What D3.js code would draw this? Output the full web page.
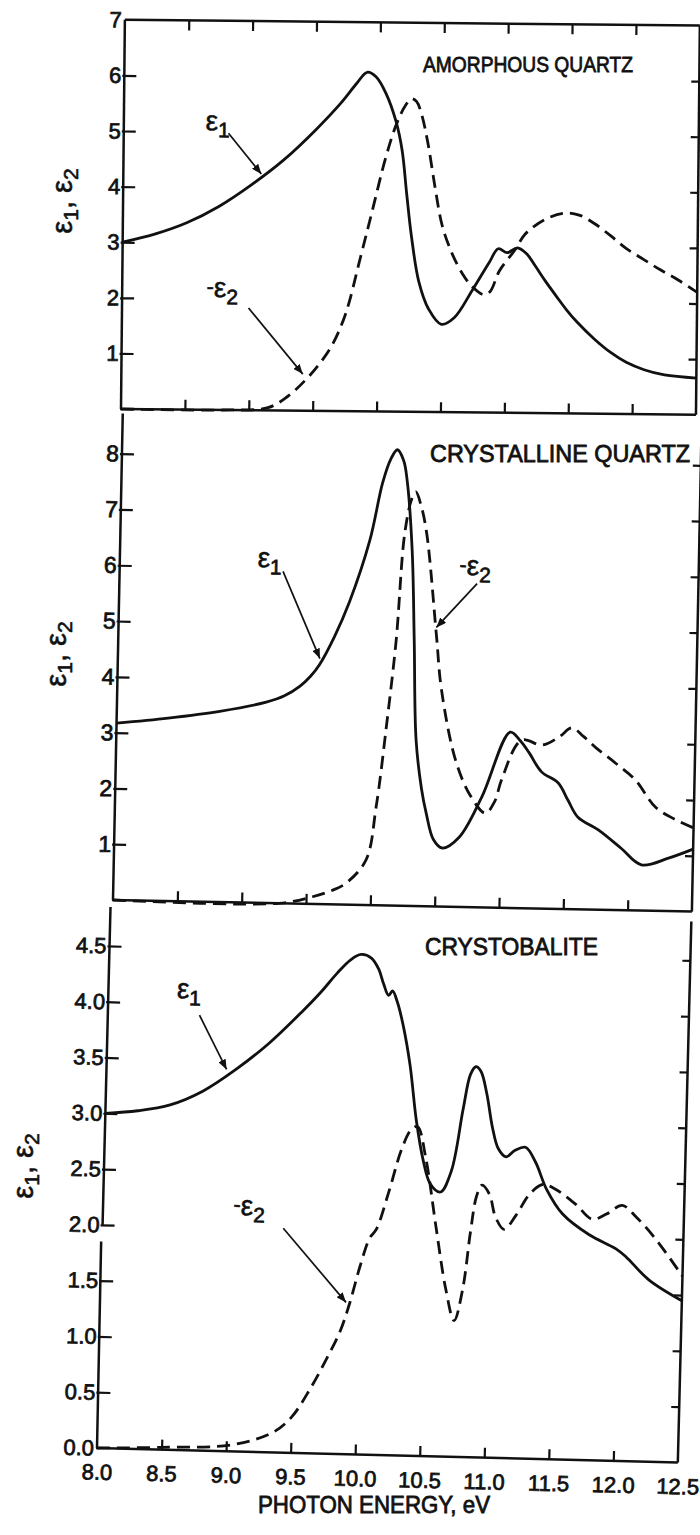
<!DOCTYPE html>
<html><head><meta charset="utf-8">
<script src="https://cdn.jsdelivr.net/npm/d3@7"></script>
<style>
body{margin:0;background:#fff}
text{font-family:"Liberation Sans",Arial,sans-serif;fill:#111}
</style>
</head><body>
<svg id="c" width="700" height="1535"></svg>
<script>
// ---------------- DATA ----------------
const energyDomain = [8.0, 12.5];
const energyTickValues = [8.5, 9.0, 9.5, 10.0, 10.5, 11.0, 11.5, 12.0];
const energyLabelValues = [8.0, 8.5, 9.0, 9.5, 10.0, 10.5, 11.0, 11.5, 12.0, 12.5];
const energyLabels = ["8.0","8.5","9.0","9.5","10.0","10.5","11.0","11.5","12.0","12.5"];

const panelTitles = ["AMORPHOUS QUARTZ", "CRYSTALLINE QUARTZ", "CRYSTOBALITE"];

const amorphousTickValues = [1, 2, 3, 4, 5, 6];
const amorphousLabelValues = [1, 2, 3, 4, 5, 6, 7];
const crystallineTickValues = [1, 2, 3, 4, 5, 6, 7, 8];
const crystallineLabelValues = [1, 2, 3, 4, 5, 6, 7, 8];
const crystobaliteTickValues = [0.5, 1.0, 1.5, 2.0, 2.5, 3.0, 3.5, 4.0, 4.5];
const crystobaliteLabelValues = [0.0, 0.5, 1.0, 1.5, 2.0, 2.5, 3.0, 3.5, 4.0, 4.5];

// [photon energy eV, value]
const amorphousEps1 = [
 [8.0,3.0],[8.25,3.15],[8.5,3.36],[8.75,3.66],[9.0,4.05],[9.25,4.5],[9.5,5.05],[9.7,5.55],
 [9.82,5.9],[9.9,6.1],[9.97,6.02],[10.05,5.72],[10.13,5.22],[10.18,4.7],[10.22,3.9],[10.26,3.15],
 [10.32,2.35],[10.4,1.85],[10.5,1.58],[10.6,1.7],[10.74,2.2],[10.87,2.7],[10.94,2.95],[11.01,2.88],
 [11.09,2.97],[11.16,2.87],[11.23,2.65],[11.31,2.38],[11.4,2.1],[11.48,1.86],[11.56,1.65],
 [11.7,1.34],[11.83,1.1],[11.95,0.93],[12.09,0.8],[12.25,0.71],[12.5,0.66]
];
const amorphousEps2 = [
 [8.0,0.0],[8.8,0.0],[9.15,0.05],[9.3,0.25],[9.44,0.55],[9.55,0.85],[9.65,1.2],[9.75,1.75],
 [9.86,2.75],[9.95,3.6],[10.05,4.55],[10.13,5.15],[10.2,5.5],[10.25,5.63],[10.29,5.58],
 [10.33,5.35],[10.38,4.85],[10.44,4.05],[10.5,3.35],[10.58,2.85],[10.66,2.5],[10.74,2.26],
 [10.83,2.12],[10.88,2.18],[10.95,2.55],[11.07,2.93],[11.15,3.22],[11.3,3.48],[11.45,3.6],
 [11.57,3.57],[11.69,3.42],[11.82,3.2],[11.94,2.98],[12.08,2.78],[12.21,2.6],[12.35,2.42],[12.5,2.2]
];
const crystallineEps1 = [
 [8.0,3.17],[8.4,3.28],[8.8,3.42],[9.16,3.6],[9.3,3.72],[9.42,3.9],[9.5,4.08],[9.57,4.3],
 [9.68,4.8],[9.79,5.42],[9.94,6.54],[10.03,7.57],[10.09,8.0],[10.14,8.17],[10.19,7.98],
 [10.22,7.63],[10.27,6.38],[10.3,4.77],[10.33,2.98],[10.38,2.1],[10.42,1.67],[10.48,1.2],
 [10.55,1.05],[10.68,1.25],[10.85,1.98],[11.06,3.15],[11.14,3.0],[11.21,2.79],[11.31,2.45],
 [11.44,2.26],[11.52,1.95],[11.6,1.65],[11.76,1.43],[11.94,1.11],[12.1,0.82],[12.31,0.95],[12.5,1.12]
];
const crystallineEps2 = [
 [8.0,0.0],[9.29,0.0],[9.55,0.13],[9.7,0.25],[9.81,0.39],[9.96,0.81],[10.03,1.76],[10.1,3.27],
 [10.16,4.76],[10.21,6.68],[10.26,7.3],[10.29,7.42],[10.33,7.2],[10.38,6.69],[10.47,4.9],
 [10.52,3.88],[10.64,2.63],[10.76,2.0],[10.88,1.69],[10.95,1.9],[11.0,2.29],[11.15,3.01],
 [11.31,2.93],[11.44,3.08],[11.54,3.25],[11.63,3.1],[11.73,2.9],[11.88,2.64],[12.04,2.34],
 [12.2,1.86],[12.36,1.64],[12.5,1.5]
];
const crystobaliteEps1 = [
 [8.0,3.0],[8.25,3.03],[8.5,3.09],[8.75,3.22],[9.0,3.42],[9.25,3.66],[9.5,3.95],[9.65,4.14],
 [9.77,4.31],[9.87,4.43],[9.95,4.48],[10.03,4.45],[10.09,4.35],[10.13,4.22],[10.17,4.12],
 [10.2,4.16],[10.24,4.06],[10.29,3.85],[10.35,3.5],[10.41,3.0],[10.47,2.65],[10.53,2.44],
 [10.61,2.37],[10.69,2.56],[10.77,3.12],[10.82,3.43],[10.86,3.5],[10.9,3.46],[10.95,3.26],
 [11.0,2.96],[11.05,2.77],[11.11,2.7],[11.18,2.76],[11.26,2.79],[11.34,2.66],[11.43,2.42],
 [11.56,2.2],[11.77,2.02],[11.98,1.9],[12.06,1.83],[12.24,1.63],[12.5,1.45]
];
const crystobaliteEps2 = [
 [8.0,0.0],[8.49,0.02],[9.05,0.06],[9.36,0.18],[9.5,0.32],[9.64,0.58],[9.76,0.85],[9.86,1.1],
 [9.93,1.36],[10.0,1.68],[10.07,1.94],[10.12,2.02],[10.21,2.36],[10.3,2.74],[10.37,2.92],
 [10.42,2.95],[10.49,2.67],[10.58,2.07],[10.67,1.5],[10.74,1.22],[10.8,1.5],[10.85,2.02],
 [10.89,2.34],[10.93,2.44],[10.99,2.36],[11.04,2.16],[11.11,2.05],[11.2,2.18],[11.3,2.37],
 [11.4,2.46],[11.5,2.42],[11.66,2.29],[11.79,2.16],[11.9,2.21],[12.02,2.29],[12.13,2.19],
 [12.29,1.99],[12.5,1.67]
];

// annotation anchors in data space
const amorphousNotes = [
 {sym:"ε", sub:"1", pre:"", at:[8.64,5.03], from:[8.82,4.98], to:[9.08,4.25]},
 {sym:"ε", sub:"2", pre:"-", at:[8.66,2.03], from:[8.99,1.84], to:[9.42,0.66]}
];
const crystallineNotes = [
 {sym:"ε", sub:"1", pre:"", at:[9.07,6.02], from:[9.27,5.95], to:[9.57,4.4]},
 {sym:"ε", sub:"2", pre:"-", at:[10.64,5.95], from:[10.78,5.8], to:[10.47,5.0]}
];
const crystobaliteNotes = [
 {sym:"ε", sub:"1", pre:"", at:[8.53,4.05], from:[8.71,3.9], to:[8.93,3.42]},
 {sym:"ε", sub:"2", pre:"-", at:[9.01,2.12], from:[9.4,2.01], to:[9.9,1.36]}
];

// ---------------- LAYOUT ----------------
const svg = d3.select("#c");
svg.append("rect").attr("width",700).attr("height",1535).attr("fill","#fff");

const defs = svg.append("defs");
defs.append("marker").attr("id","arr").attr("viewBox","0 0 10 8")
  .attr("refX",10).attr("refY",4).attr("markerWidth",10).attr("markerHeight",8)
  .attr("markerUnits","userSpaceOnUse").attr("orient","auto")
  .append("path").attr("d","M0,0L10,4L0,8z").attr("fill","#111");

const INK = "#111";
const panels = [
  {ox:121, oy:409, w:575, sy:55.6, ymax:7, deg:0.57, top:true,
   ticks:amorphousTickValues, labels:amorphousLabelValues, fmt:d3.format("d"), fs:22,
   e1:amorphousEps1, e2:amorphousEps2, notes:amorphousNotes, bottomLabels:false,
   title:{text:panelTitles[0], x:423, y:72, len:210, fs:22},
   ytitle:{x:72, y:201}},
  {ox:113, oy:900, w:579, sy:55.8, ymax:8.72, deg:1.15, top:false,
   ticks:crystallineTickValues, labels:crystallineLabelValues, fmt:d3.format("d"), fs:23,
   e1:crystallineEps1, e2:crystallineEps2, notes:crystallineNotes, bottomLabels:false,
   title:{text:panelTitles[1], x:430, y:462, len:260, fs:24},
   ytitle:{x:66, y:654}},
  {ox:97, oy:1448, w:581, sy:111.6, ymax:4.85, deg:1.43, top:false, brk:[2.0,1.85],
   ticks:crystobaliteTickValues, labels:crystobaliteLabelValues, fmt:d3.format(".1f"), fs:22,
   e1:crystobaliteEps1, e2:crystobaliteEps2, notes:crystobaliteNotes, bottomLabels:true,
   title:{text:panelTitles[2], x:425, y:955, len:173, fs:24},
   ytitle:{x:33, y:1166}}
];

const line = (x,y) => d3.line().x(d=>x(d[0])).y(d=>y(d[1])).curve(d3.curveCatmullRom.alpha(0.5));
const styleLabels = (sel, fs) => sel.selectAll("text").attr("font-size",fs)
  .attr("font-family","Liberation Sans, Arial, sans-serif")
  .attr("fill",INK).attr("stroke",INK).attr("stroke-width",0.75);

panels.forEach(p => {
  const g = svg.append("g").attr("transform",`translate(${p.ox},${p.oy}) rotate(${p.deg})`);
  const x = d3.scaleLinear().domain(energyDomain).range([0,p.w]);
  const y = d3.scaleLinear().domain([0,p.ymax]).range([0,-p.sy*p.ymax]);

  // frame
  const frame = g.append("g").attr("fill","none").attr("stroke",INK).attr("stroke-width",2.5);
  if (p.brk) {
    frame.append("line").attr("x1",0).attr("y1",y(p.ymax)).attr("x2",0).attr("y2",y(p.brk[0]));
    frame.append("line").attr("x1",-1).attr("y1",y(p.brk[1])).attr("x2",0).attr("y2",y(0));
  } else {
    frame.append("line").attr("x1",0).attr("y1",y(p.ymax)).attr("x2",0).attr("y2",y(0));
  }
  frame.append("line").attr("x1",-1).attr("y1",0).attr("x2",p.w).attr("y2",0);
  frame.append("line").attr("x1",p.w).attr("y1",y(p.ymax)).attr("x2",p.w).attr("y2",0);
  if (p.top) frame.append("line").attr("x1",0).attr("y1",y(p.ymax)).attr("x2",p.w).attr("y2",y(p.ymax));

  // left ticks + labels
  const la = g.append("g").call(d3.axisLeft(y).tickValues(p.ticks).tickSize(-12).tickFormat(""));
  la.select(".domain").remove();
  la.selectAll("line").attr("x1",-2).attr("stroke",INK).attr("stroke-width",2.2);
  const ll = g.append("g").call(d3.axisLeft(y).tickValues(p.labels).tickSize(0).tickPadding(3).tickFormat(p.fmt));
  ll.select(".domain").remove();
  styleLabels(ll, p.fs);

  // right ticks
  const ra = g.append("g").attr("transform",`translate(${p.w},0)`)
    .call(d3.axisRight(y).tickValues(p.ticks).tickSize(-8).tickFormat(""));
  ra.select(".domain").remove();
  ra.selectAll("line").attr("stroke",INK).attr("stroke-width",2.2);

  // bottom ticks
  const ba = g.append("g").call(d3.axisBottom(x).tickValues(energyTickValues).tickSize(-10).tickFormat(""));
  ba.select(".domain").remove();
  ba.selectAll("line").attr("stroke",INK).attr("stroke-width",2.2);
  if (p.bottomLabels) {
    const bl = g.append("g").call(d3.axisBottom(x).tickValues(energyLabelValues).tickSize(0).tickPadding(16)
      .tickFormat((d,i)=>energyLabels[i]));
    bl.select(".domain").remove();
    styleLabels(bl, 22);
  }
  if (p.top) {
    const ta = g.append("g").attr("transform",`translate(0,${y(p.ymax)})`)
      .call(d3.axisTop(x).tickValues(energyTickValues).tickSize(-10).tickFormat(""));
    ta.select(".domain").remove();
    ta.selectAll("line").attr("stroke",INK).attr("stroke-width",2.2);
  }

  // curves
  const ln = line(x,y);
  g.append("path").datum(p.e2).attr("d",ln).attr("fill","none").attr("stroke",INK)
    .attr("stroke-width",2.8).attr("stroke-dasharray","13,7");
  g.append("path").datum(p.e1).attr("d",ln).attr("fill","none").attr("stroke",INK)
    .attr("stroke-width",2.8);

  // annotations
  p.notes.forEach(n => {
    const t = g.append("text").attr("x",x(n.at[0])).attr("y",y(n.at[1]))
      .attr("font-family","DejaVu Sans, sans-serif").attr("font-size",28)
      .attr("stroke",INK).attr("stroke-width",0.5);
    if (n.pre) t.append("tspan").text(n.pre).attr("font-size",22).attr("dy",-3);
    t.append("tspan").text(n.sym).attr("dy", n.pre ? 3 : 0);
    t.append("tspan").text(n.sub).attr("font-size",21).attr("dy",7).attr("font-family","Liberation Sans, Arial, sans-serif")
      .attr("stroke-width",0.7);
    g.append("line").attr("x1",x(n.from[0])).attr("y1",y(n.from[1]))
      .attr("x2",x(n.to[0])).attr("y2",y(n.to[1]))
      .attr("stroke",INK).attr("stroke-width",1.7).attr("marker-end","url(#arr)");
  });

  // panel title
  svg.append("text").attr("x",p.title.x).attr("y",p.title.y).text(p.title.text)
    .attr("font-size",p.title.fs).attr("textLength",p.title.len).attr("lengthAdjust","spacingAndGlyphs")
    .attr("stroke",INK).attr("stroke-width",0.8);

  // y-axis title
  const yt = svg.append("text").attr("transform",`translate(${p.ytitle.x},${p.ytitle.y}) rotate(-90)`)
    .attr("text-anchor","middle").attr("font-family","DejaVu Sans, sans-serif").attr("font-size",29)
    .attr("stroke",INK).attr("stroke-width",0.6);
  yt.append("tspan").text("ε");
  yt.append("tspan").text("1").attr("font-size",21).attr("dy",6).attr("font-family","Liberation Sans, Arial, sans-serif");
  yt.append("tspan").text(", ").attr("dy",-6);
  yt.append("tspan").text("ε");
  yt.append("tspan").text("2").attr("font-size",21).attr("dy",6).attr("font-family","Liberation Sans, Arial, sans-serif");
});

// x-axis title
svg.append("text").attr("x",258).attr("y",1513).text("PHOTON ENERGY, eV")
  .attr("font-size",24).attr("textLength",232).attr("lengthAdjust","spacingAndGlyphs")
  .attr("stroke",INK).attr("stroke-width",0.8);
</script>
</body></html>
